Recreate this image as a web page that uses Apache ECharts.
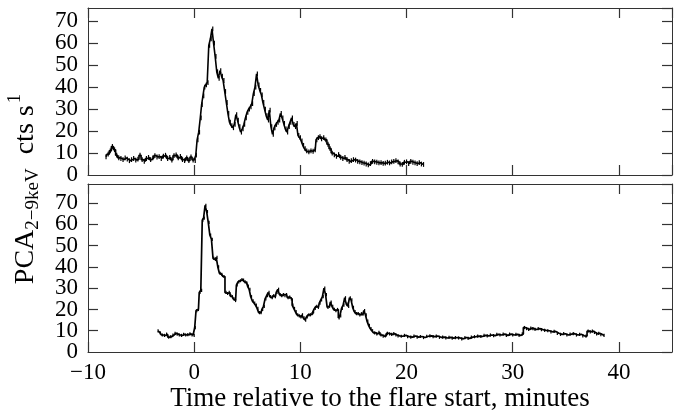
<!DOCTYPE html>
<html>
<head>
<meta charset="utf-8">
<script src="https://cdn.jsdelivr.net/npm/echarts@6/dist/echarts.min.js"></script>
<style>
html,body{margin:0;padding:0;background:#fff;}
#chart{width:683px;height:416px;}
</style>
</head>
<body>
<div id="chart"></div>
<script>
// Top panel: [time (min), rate (cts/s)]
const topData = [
[-8.3,8.3],[-8.1,9.5],[-7.9,11],[-7.7,13],[-7.5,11.5],[-7.3,9],[-7.1,7.8],[-6.9,7.5],[-6.7,7],[-6.5,7.8],
[-6.3,7.2],[-6.1,6.5],[-5.9,7],[-5.7,7.5],[-5.5,6.8],[-5.3,7.2],[-5.1,9],[-4.9,7],[-4.7,6.2],[-4.5,7.5],
[-4.3,8],[-4.1,7],[-3.9,7.8],[-3.7,8.8],[-3.5,8.2],[-3.3,8.4],[-3.1,7.5],[-2.9,8.6],[-2.7,9],[-2.5,7.5],
[-2.3,8],[-2.1,6.8],[-1.9,8.8],[-1.7,9.2],[-1.5,7.8],[-1.3,8.5],[-1.1,7],[-0.9,6.5],[-0.7,7.8],[-0.5,6.5],
[-0.3,8.2],[-0.1,6.8],[0.1,6.5],[0.2,9],[0.35,16],[0.5,19.5],[0.65,26],[0.75,32],[0.9,36],[1.0,40],
[1.15,41],[1.3,42],[1.45,59],[1.6,62],[1.75,66.5],[1.9,60],[2.05,54],[2.2,47],[2.35,44],[2.5,47.5],
[2.65,45],[2.8,43],[2.95,38],[3.1,33],[3.25,28],[3.4,24],[3.55,22.5],[3.7,21.5],[3.85,23],[4.0,27.5],
[4.15,25],[4.3,22],[4.45,19.5],[4.6,21],[4.75,23],[4.9,26],[5.05,28.5],[5.2,30],[5.35,31],[5.5,32.5],
[5.65,37],[5.8,40],[5.95,46],[6.1,41],[6.25,38.5],[6.4,36.5],[6.55,33],[6.7,30],[6.85,27],[7.0,25],
[7.15,29.5],[7.3,22],[7.45,18.5],[7.6,21.5],[7.75,23],[7.9,24],[8.05,25],[8.2,28],[8.35,26],[8.5,23.5],
[8.65,21],[8.8,19.5],[8.95,22],[9.1,24],[9.25,26],[9.4,23],[9.55,22],[9.7,23.5],[9.85,18],[10.0,17],
[10.15,15.5],[10.3,13.5],[10.45,12],[10.6,11],[10.8,10.5],[11.0,11],[11.2,10.8],[11.4,11.5],[11.55,16],[11.7,17],
[11.85,17.5],[12.0,16.5],[12.2,17],[12.4,16],[12.6,14],[12.8,12],[13.0,10],[13.2,9.2],[13.4,8.5],[13.6,9.3],
[13.8,8],[14.0,7.5],[14.2,8],[14.4,7],[14.6,6.2],[14.8,6.5],[15.0,7],[15.2,6.8],[15.4,6.2],[15.6,6],
[15.8,5.6],[16.0,5.4],[16.2,5],[16.4,4.6],[16.6,5.2],[16.8,6.2],[17.0,6],[17.2,5.8],[17.4,5.5],[17.6,5.6],
[17.8,5.3],[18.0,5.4],[18.2,5.8],[18.4,5.5],[18.6,6],[18.8,6.2],[19.0,6.5],[19.2,6],[19.4,5],[19.6,4.8],
[19.8,5.8],[20.0,6],[20.2,5.2],[20.4,6.2],[20.6,5.8],[20.8,5.5],[21.0,5.2],[21.2,5.6],[21.4,5],[21.6,4.8]
];
// Bottom panel: [time (min), rate (cts/s)]
const bottomData = [
[-3.4,9.9],[-3.2,9],[-3.0,8],[-2.8,7.8],[-2.6,8.4],[-2.4,7],[-2.2,7.2],[-2.0,8],[-1.8,8.8],[-1.6,8.4],
[-1.4,8],[-1.2,7.8],[-1.0,8.3],[-0.8,8],[-0.6,8.2],[-0.4,8.5],[-0.2,8],[0.0,7.8],[0.1,11.5],[0.25,19.5],
[0.4,20],[0.55,28],[0.7,29],[0.82,62],[0.95,63],[1.1,69],[1.25,66],[1.4,61],[1.55,55],[1.7,53],
[1.85,44],[2.0,43.5],[2.15,44.5],[2.3,40],[2.45,37],[2.6,36.5],[2.8,35.5],[3.0,28],[3.15,27.5],[3.3,28],
[3.45,26.5],[3.6,26],[3.75,25],[3.9,24.2],[4.05,31.5],[4.2,33],[4.35,33.5],[4.5,34],[4.65,33.8],[4.8,33],
[4.95,32.5],[5.1,31],[5.25,29.5],[5.4,26],[5.55,24],[5.7,23],[5.85,22],[6.0,20.5],[6.15,18.5],[6.3,18.5],
[6.45,20],[6.6,21.5],[6.75,25],[6.9,26.5],[7.05,28],[7.2,26],[7.35,25.5],[7.5,26.5],[7.65,26],[7.8,28],
[7.95,29.5],[8.1,27],[8.25,26.5],[8.4,27],[8.55,26.5],[8.7,27],[8.85,25.5],[9.0,25.8],[9.15,25],[9.3,22],
[9.45,20.5],[9.6,19],[9.75,17.5],[9.9,17],[10.05,16.5],[10.2,17.5],[10.35,16],[10.5,15],[10.65,16.5],[10.8,17.5],
[10.95,17.5],[11.1,18],[11.25,19],[11.4,20.5],[11.55,21.5],[11.7,21],[11.85,23],[12.0,24.5],[12.15,26],[12.3,30],
[12.45,27],[12.6,21],[12.75,21.5],[12.9,23.5],[13.05,21.5],[13.2,20],[13.35,19.5],[13.5,20],[13.65,16],[13.8,17],
[13.95,20.5],[14.1,22],[14.25,25.5],[14.4,22.5],[14.55,21.5],[14.7,25.5],[14.85,24.5],[15.0,21],[15.15,19],[15.3,18],
[15.45,18],[15.6,17.5],[15.75,18],[15.9,17.8],[16.05,19.5],[16.2,17.5],[16.35,14.5],[16.5,12.5],[16.65,11],[16.8,10],
[17.0,9],[17.2,8.5],[17.4,9.2],[17.6,8],[17.8,7.5],[18.0,7.6],[18.2,8.8],[18.4,8.5],[18.6,8.3],[18.8,8.6],
[19.0,8],[19.2,7.6],[19.5,7.4],[19.8,7.8],[20.1,7.2],[20.4,7],[20.7,7.5],[21.0,7],[21.3,7.3],[21.6,6.8],
[21.9,7.4],[22.2,7.6],[22.5,7.2],[22.8,7.5],[23.1,6.9],[23.4,7],[23.7,6.6],[24.0,6.9],[24.3,6.5],[24.6,6.8],
[24.9,6.6],[25.2,6.2],[25.5,6.8],[25.8,6.4],[26.1,7],[26.4,7.2],[26.7,7.5],[27.0,7.3],[27.3,7.8],[27.6,7.6],
[27.9,8],[28.2,7.7],[28.5,8.3],[28.8,8],[29.1,8.4],[29.4,7.8],[29.7,8.4],[30.0,8],[30.3,8.3],[30.6,7.8],
[30.9,8.5],[31.1,11.5],[31.3,11],[31.5,10.6],[31.7,11.2],[31.9,11],[32.1,10.6],[32.4,11],[32.7,10.5],[33.0,10.2],
[33.3,10],[33.6,9.5],[33.9,9.7],[34.2,8.8],[34.5,8.3],[34.8,8.6],[35.1,8],[35.4,8.4],[35.7,8.6],[36.0,8],
[36.3,8.3],[36.6,7.6],[36.9,7.5],[37.1,9.8],[37.3,9.5],[37.5,9.8],[37.7,9.2],[37.9,8.5],[38.1,8.8],[38.3,8.2],
[38.6,7.8]
];
const xTicks = [-10, 0, 10, 20, 30, 40];
const yTicks = [0, 10, 20, 30, 40, 50, 60, 70];

const FONT = '"Liberation Serif", "Times New Roman", serif';
const frame = '#333';
const chart = echarts.init(document.getElementById('chart'));

function xAx(grid, pos, labels, name) {
  return {
    type: 'value', gridIndex: grid, position: pos, min: -10, max: 45, interval: 10,
    axisLine: {show: true, onZero: false, lineStyle: {color: frame, width: 1}},
    axisTick: {show: true, inside: true, length: 10, lineStyle: {color: frame, width: 1.2}},
    axisLabel: {show: labels, showMinLabel: true, showMaxLabel: false, margin: 9, color: '#000', fontFamily: FONT, fontSize: 23,
      formatter: v => xTicks.indexOf(v) >= 0 ? (v < 0 ? '\u2212' + Math.abs(v) : String(v)) : ''},
    splitLine: {show: false},
    name: name || '', nameLocation: 'middle', nameGap: 33,
    nameTextStyle: {color: '#000', fontFamily: FONT, fontSize: 27}
  };
}
// mode: 'frame' = line+ticks, labels 10..70; 'zero' = only the "0" label; 'plain' = line+ticks only
function yAx(grid, pos, mode, max) {
  const frameOn = mode !== 'zero';
  return {
    type: 'value', gridIndex: grid, position: pos, offset: 0, min: 0, max: max, interval: 10,
    axisLine: {show: frameOn, onZero: false, lineStyle: {color: frame, width: 1}},
    axisTick: {show: frameOn, inside: true, length: 10, lineStyle: {color: frame, width: 1.2}},
    axisLabel: {show: mode !== 'plain', showMinLabel: mode === 'zero', showMaxLabel: false, margin: 10,
      color: '#000', fontFamily: FONT, fontSize: 23,
      formatter: v => (mode === 'zero' ? v === 0 : (v !== 0 && yTicks.indexOf(v) >= 0)) ? String(v) : ''},
    splitLine: {show: false}
  };
}

// small error-bar serifs drawn at every bin (pixel size is a style choice)
function errRender(half) {
  return function (params, api) {
    const p = api.coord([api.value(0), api.value(1)]);
    return {type: 'line', shape: {x1: p[0], y1: p[1] - half, x2: p[0], y2: p[1] + half},
      style: {stroke: '#000', lineWidth: 1.2}};
  };
}

// y-axis title with sub/superscript, built from measured widths
const mctx = document.createElement('canvas').getContext('2d');
function tw(t, s) { mctx.font = s + 'px ' + FONT; return mctx.measureText(t).width; }
const parts = [
  {t: 'PCA', s: 28, dy: 0},
  {t: '2\u22129keV', s: 19, dy: 7},
  {t: '  cts s', s: 28, dy: 0},
  {t: '1', s: 19, dy: -11}
];
let total = 0; parts.forEach(p => { p.w = tw(p.t, p.s); total += p.w; });
let cx = -total / 2;
const labelChildren = parts.map(p => {
  const el = {type: 'text', x: cx, y: p.dy, style: {text: p.t, fontSize: p.s, fontFamily: FONT, fill: '#000',
    textAlign: 'left', textVerticalAlign: 'middle'}};
  cx += p.w + (p.t === '  cts s' ? 2 : 0); return el;
});

chart.setOption({
  animation: false,
  backgroundColor: '#fff',
  grid: [
    {left: 88, right: 11, top: 8, height: 167},
    {left: 88, right: 11, top: 184, height: 168}
  ],
  xAxis: [
    xAx(0, 'bottom', false), xAx(0, 'top', false),
    xAx(1, 'bottom', true, 'Time relative to the flare start, minutes'), xAx(1, 'top', false)
  ],
  yAxis: [
    yAx(0, 'left', 'frame', 76), yAx(0, 'right', 'plain', 76), yAx(0, 'left', 'zero', 76),
    yAx(1, 'left', 'frame', 79), yAx(1, 'right', 'plain', 79), yAx(1, 'left', 'zero', 79)
  ],
  series: [
    {type: 'line', xAxisIndex: 0, yAxisIndex: 0, data: topData, step: 'middle', showSymbol: false,
      lineStyle: {color: '#000', width: 1.6}},
    {type: 'custom', xAxisIndex: 0, yAxisIndex: 0, data: topData, renderItem: errRender(2.4)},
    {type: 'line', xAxisIndex: 2, yAxisIndex: 3, data: bottomData, step: 'middle', showSymbol: false,
      lineStyle: {color: '#000', width: 1.7}},
    {type: 'custom', xAxisIndex: 2, yAxisIndex: 3, data: bottomData, renderItem: errRender(1.6)}
  ],
  graphic: [
    {type: 'group', x: 26, y: 190, rotation: Math.PI / 2, children: labelChildren}
  ]
});
</script>
</body>
</html>
